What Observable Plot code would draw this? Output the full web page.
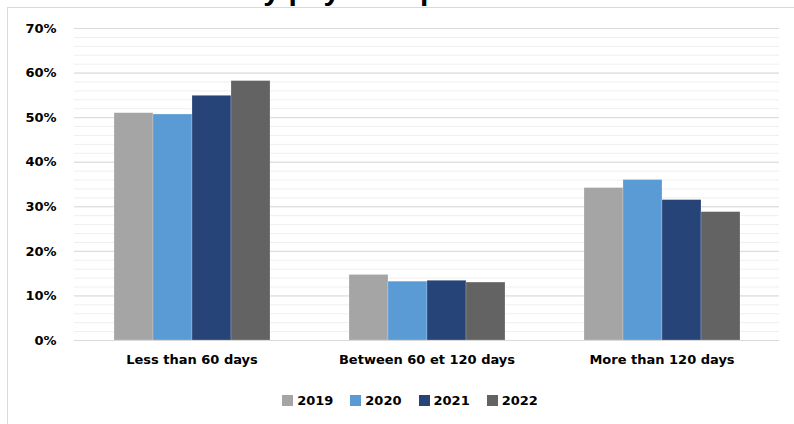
<!DOCTYPE html>
<html>
<head>
<meta charset="utf-8">
<script src="https://cdn.jsdelivr.net/npm/d3@7"></script>
<script src="https://cdn.jsdelivr.net/npm/@observablehq/plot@0.6"></script>
<style>
  html, body { margin: 0; padding: 0; background: #fff; }
  body { width: 794px; height: 424px; overflow: hidden; position: relative; font-family: "DejaVu Sans", sans-serif; }
  #frame { position: absolute; left: 7px; top: 7px; width: 800px; height: 430px; border: 1px solid #d9d9d9; box-sizing: border-box; }
  #title { position: absolute; left: 75px; top: -27px; font: bold 30px "Liberation Sans", Arial, sans-serif; color: #000; white-space: nowrap; }
  #chart { position: absolute; left: 0; top: 0; }
  #legend { position: absolute; left: 13px; top: 393px; width: 794px; display: flex; justify-content: center; gap: 17px; font: bold 13px "DejaVu Sans", sans-serif; color: #000; }
  #legend span.item { display: inline-flex; align-items: center; gap: 4px; }
  #legend span.sw { display: inline-block; width: 11px; height: 11px; }
</style>
</head>
<body>
<div id="frame"></div>
<div id="title">Breakdown by payment period</div>
<div id="chart"></div>
<div id="legend"></div>
<script>
const categories = ["Less than 60 days", "Between 60 et 120 days", "More than 120 days"];
const years = ["2019", "2020", "2021", "2022"];
const colors = ["#a5a5a5", "#5b9bd5", "#264478", "#636363"];
const v2019 = [0.510, 0.147, 0.342];
const v2020 = [0.507, 0.132, 0.360];
const v2021 = [0.549, 0.134, 0.315];
const v2022 = [0.582, 0.130, 0.288];
const yTicks = [0, 0.1, 0.2, 0.3, 0.4, 0.5, 0.6, 0.7];
const minorTicks = d3.range(0, 0.7001, 0.02);

const series = [v2019, v2020, v2021, v2022];
const data = [];
categories.forEach((c, i) => years.forEach((y, j) => data.push({category: c, year: y, value: series[j][i]})));

const chart = Plot.plot({
  width: 794,
  height: 372,
  marginLeft: 73,
  marginRight: 14,
  marginTop: 28,
  marginBottom: 32,
  style: {fontFamily: "'DejaVu Sans', sans-serif", fontWeight: "bold", fontSize: "13px", color: "#000"},
  fx: {domain: categories, padding: 0, label: null, axis: "bottom", tickSize: 0, tickPadding: 14},
  x: {domain: years, paddingInner: 0, paddingOuter: 1, axis: null},
  y: {domain: [0, 0.7], ticks: yTicks, tickFormat: d => Math.round(d * 100) + "%", tickSize: 0, tickPadding: 18, label: null},
  color: {domain: years, range: colors},
  marks: [
    Plot.ruleY(minorTicks, {stroke: "#efefef", strokeWidth: 1}),
    Plot.ruleY(yTicks, {stroke: "#d9d9d9", strokeWidth: 1}),
    Plot.barY(data, {fx: "category", x: "year", y: "value", fill: "year", stroke: "#ffffff", strokeOpacity: 0.35, strokeWidth: 0.6}),
    Plot.ruleY([0], {stroke: "#d9d9d9", strokeWidth: 1.2})
  ]
});
document.getElementById("chart").appendChild(chart);

const legend = document.getElementById("legend");
years.forEach((y, i) => {
  const item = document.createElement("span");
  item.className = "item";
  const sw = document.createElement("span");
  sw.className = "sw";
  sw.style.background = colors[i];
  item.appendChild(sw);
  item.appendChild(document.createTextNode(y));
  legend.appendChild(item);
});
</script>
</body>
</html>
